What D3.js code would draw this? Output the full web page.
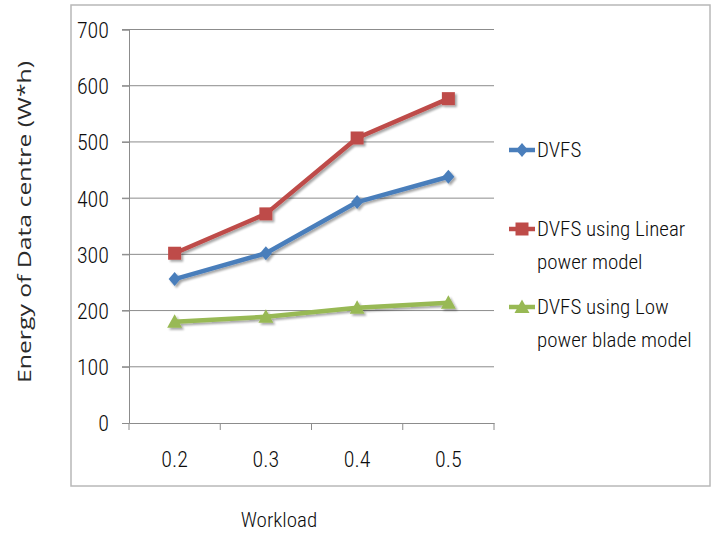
<!DOCTYPE html>
<html>
<head>
<meta charset="utf-8">
<script src="https://cdn.jsdelivr.net/npm/d3@7/dist/d3.min.js"></script>
<style>
  html, body { margin: 0; padding: 0; background: #fff; }
  svg { display: block; }
</style>
</head>
<body>
<svg id="chart" width="717" height="533"></svg>
<script>
const categories = ["0.2", "0.3", "0.4", "0.5"];
const dvfs = [256, 302, 393, 438];
const dvfsLinear = [302, 372, 507, 577];
const dvfsLowPower = [180, 189, 205, 214];
const yTicks = [0, 100, 200, 300, 400, 500, 600, 700];
const seriesNames = [["DVFS"], ["DVFS using Linear", "power model"], ["DVFS using Low", "power blade model"]];

const series = [
  { name: seriesNames[0], values: dvfs, color: "#4A7EBB", marker: "diamond" },
  { name: seriesNames[1], values: dvfsLinear, color: "#BE4B48", marker: "square" },
  { name: seriesNames[2], values: dvfsLowPower, color: "#98B954", marker: "triangle" }
];

const svg = d3.select("#chart");
const tickFont = "'Roboto Condensed', 'Liberation Sans Narrow', 'Liberation Sans', sans-serif";
const tickWeight = 300;
const textColor = "#0d0d0d";

// outer frame
svg.append("rect").attr("x", 71).attr("y", 5).attr("width", 639).attr("height", 481)
  .attr("fill", "none").attr("stroke", "#b8b8b8").attr("stroke-width", 1.5);

const x = d3.scaleBand().domain(categories).range([129, 494]).padding(0);
const y = d3.scaleLinear().domain([0, 700]).range([423, 29.5]);

// gridlines
svg.append("g").selectAll("line").data(yTicks.filter(d => d > 0)).join("line")
  .attr("x1", 122).attr("x2", 494)
  .attr("y1", d => y(d)).attr("y2", d => y(d))
  .attr("stroke", "#8c8c8c").attr("stroke-width", 1);

// y axis
const yAxis = svg.append("g").attr("transform", "translate(129,0)")
  .call(d3.axisLeft(y).tickValues(yTicks).tickSize(7).tickPadding(13).tickFormat(d3.format("d")));
yAxis.select(".domain").attr("stroke", "#8c8c8c");
yAxis.selectAll(".tick line").attr("stroke", "#8c8c8c");
yAxis.selectAll("text").attr("font-family", tickFont).attr("font-weight", tickWeight)
  .attr("font-size", 22).attr("fill", textColor).attr("dy", "0.36em");

// x axis
const xAxis = svg.append("g").attr("transform", "translate(0,423)")
  .call(d3.axisBottom(x).tickSize(0).tickPadding(0));
xAxis.select(".domain").attr("stroke", "#8c8c8c");
xAxis.selectAll(".tick text").attr("font-family", tickFont).attr("font-weight", tickWeight)
  .attr("font-size", 22).attr("fill", textColor).attr("y", 44).attr("dy", 0);
// category boundary ticks
const bounds = categories.map(c => x(c)).concat([x(categories[categories.length - 1]) + x.bandwidth()]);
xAxis.append("g").selectAll("line").data(bounds).join("line")
  .attr("x1", d => d).attr("x2", d => d).attr("y1", 0).attr("y2", 7)
  .attr("stroke", "#8c8c8c");

// axis titles
svg.append("text").attr("transform", "translate(31,222) rotate(-90)")
  .attr("text-anchor", "middle").attr("font-family", "'Open Sans', sans-serif")
  .attr("font-size", 19).attr("fill", "#2a2a2a")
  .attr("textLength", 322).attr("lengthAdjust", "spacingAndGlyphs")
  .text("Energy of Data centre (W*h)");
svg.append("text").attr("x", 279).attr("y", 527).attr("text-anchor", "middle")
  .attr("font-family", tickFont).attr("font-weight", tickWeight)
  .attr("font-size", 21).attr("fill", textColor).text("Workload");

// shadow filter
const defs = svg.append("defs");
const f = defs.append("filter").attr("id", "sh").attr("x", "-20%").attr("y", "-20%").attr("width", "140%").attr("height", "140%");
f.append("feGaussianBlur").attr("in", "SourceAlpha").attr("stdDeviation", 1.2).attr("result", "b");
f.append("feOffset").attr("in", "b").attr("dx", 1.5).attr("dy", 2).attr("result", "o");
f.append("feComponentTransfer").attr("in", "o").attr("result", "o2")
  .append("feFuncA").attr("type", "linear").attr("slope", 0.35);
const m = f.append("feMerge");
m.append("feMergeNode").attr("in", "o2");
m.append("feMergeNode").attr("in", "SourceGraphic");

const cx = c => x(c) + x.bandwidth() / 2;
const line = d3.line().x((d, i) => cx(categories[i])).y(d => y(d));

function markerPath(type) {
  if (type === "diamond") return "M0,-7L6,0L0,7L-6,0Z";
  if (type === "square") return "M-6.5,-6.5H6.5V6.5H-6.5Z";
  return "M0,-7.5L7.5,6L-7.5,6Z";
}

series.forEach(s => {
  const g = svg.append("g").attr("filter", "url(#sh)");
  g.append("path").datum(s.values).attr("d", line)
    .attr("fill", "none").attr("stroke", s.color).attr("stroke-width", 4.5).attr("stroke-linejoin", "round");
  g.selectAll("path.mk").data(s.values).join("path").attr("class", "mk")
    .attr("transform", (d, i) => `translate(${cx(categories[i])},${y(d)})`)
    .attr("d", markerPath(s.marker)).attr("fill", s.color);
});

// legend
const legendY = [150, 229, 307];
const lg = svg.append("g");
series.forEach((s, i) => {
  const g = lg.append("g").attr("transform", `translate(0,${legendY[i]})`);
  g.append("line").attr("x1", 509).attr("x2", 535).attr("y1", 0).attr("y2", 0)
    .attr("stroke", s.color).attr("stroke-width", 4.5);
  g.append("path").attr("transform", "translate(522,0)").attr("d", markerPath(s.marker)).attr("fill", s.color);
  s.name.forEach((t, j) => {
    g.append("text").attr("x", 537).attr("y", 7 + j * 33)
      .attr("font-family", tickFont).attr("font-weight", tickWeight)
      .attr("font-size", 21).attr("fill", textColor).text(t);
  });
});
</script>
</body>
</html>
